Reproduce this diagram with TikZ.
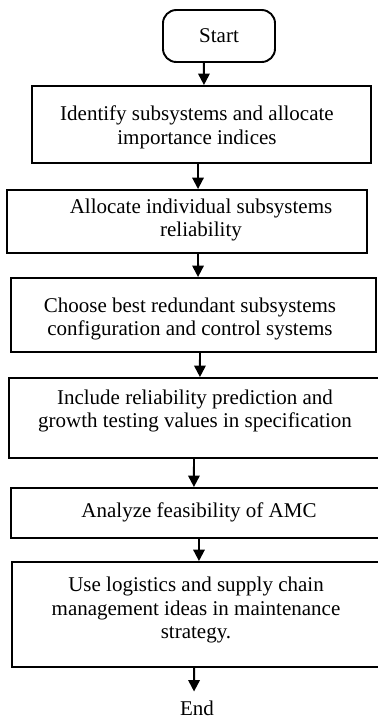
\documentclass[tikz,border=0pt]{standalone}
\usepackage{fontspec}
\setmainfont{Liberation Serif}
\usetikzlibrary{arrows.meta}
\usetikzlibrary{positioning}

\begin{document}
\begin{tikzpicture}[x=0.5714pt, y=-0.5714pt,
					stepbox/.style={draw, line width=1.1pt, inner sep=0pt},
					steptext/.style={align=center, inner sep=0pt, font=\fontsize{12}{13.6}\selectfont},
					flow/.style={line width=1.1pt, -{Triangle[width=6.5pt, length=6.5pt]}},
				]
			        \useasboundingbox (0,0) rectangle (378,721);
			        \clip (0,0) rectangle (378,721);

			        % terminals
			        \node[stepbox, rounded corners=7.6pt, minimum width=64pt, minimum height=29.7pt, font=\fontsize{12}{13.6}\selectfont] (start) at (219,36) {Start};
			        \node[steptext] (finish) at (197,708) {End};

			        % process boxes
			        \node[stepbox, minimum width=193.7pt, minimum height=44pt] (box1) at (201.5,124.5) {};
			        \node[stepbox, minimum width=205.7pt, minimum height=36pt] (box2) at (187,221.5) {};
			        \node[stepbox, minimum width=208.6pt, minimum height=42.3pt] (box3) at (193.5,315) {};
			        \node[stepbox, minimum width=212pt, minimum height=45.7pt] (box4) at (194.5,418) {};
			        \node[stepbox, minimum width=210.9pt, minimum height=28.6pt] (box5) at (195.5,513) {};
			        \node[stepbox, minimum width=210.3pt, minimum height=60pt] (box6) at (196,614.5) {};

			        \node[steptext] (txt1) at (197,127) {Identify subsystems and allocate\\importance indices};
			        \node[steptext] (txt2) at (201,220) {Allocate individual subsystems\\reliability};
			        \node[steptext] (txt3) at (190,319) {Choose best redundant subsystems\\configuration and control systems};
			        \node[steptext] (txt4) at (195,411) {Include reliability prediction and\\growth testing values in specification};
			        \node[steptext] (txt5) at (199,512.5) {Analyze feasibility of AMC};
			        \node[steptext] (txt6) at (196,610) {Use logistics and supply chain\\management ideas in maintenance\\strategy.};

			        % connectors
			        \draw[flow] ([xshift=-8.6pt]start.south) -- ([xshift=1.4pt]box1.north);
			        \draw[flow] ([xshift=-2pt]box1.south) -- ([xshift=6.3pt]box2.north);
			        \draw[flow] ([xshift=6.3pt]box2.south) -- ([xshift=2.6pt]box3.north);
			        \draw[flow] ([xshift=3.7pt]box3.south) -- ([xshift=3.1pt]box4.north);
			        \draw[flow] ([xshift=-0.3pt]box4.south) -- ([xshift=-0.9pt]box5.north);
			        \draw[flow] ([xshift=2pt]box5.south) -- ([xshift=1.7pt]box6.north);
			        \draw[flow, shorten >=5pt] ([xshift=-1.1pt]box6.south) -- ([xshift=-1.7pt]finish.north);
			    \end{tikzpicture}
\end{document}
